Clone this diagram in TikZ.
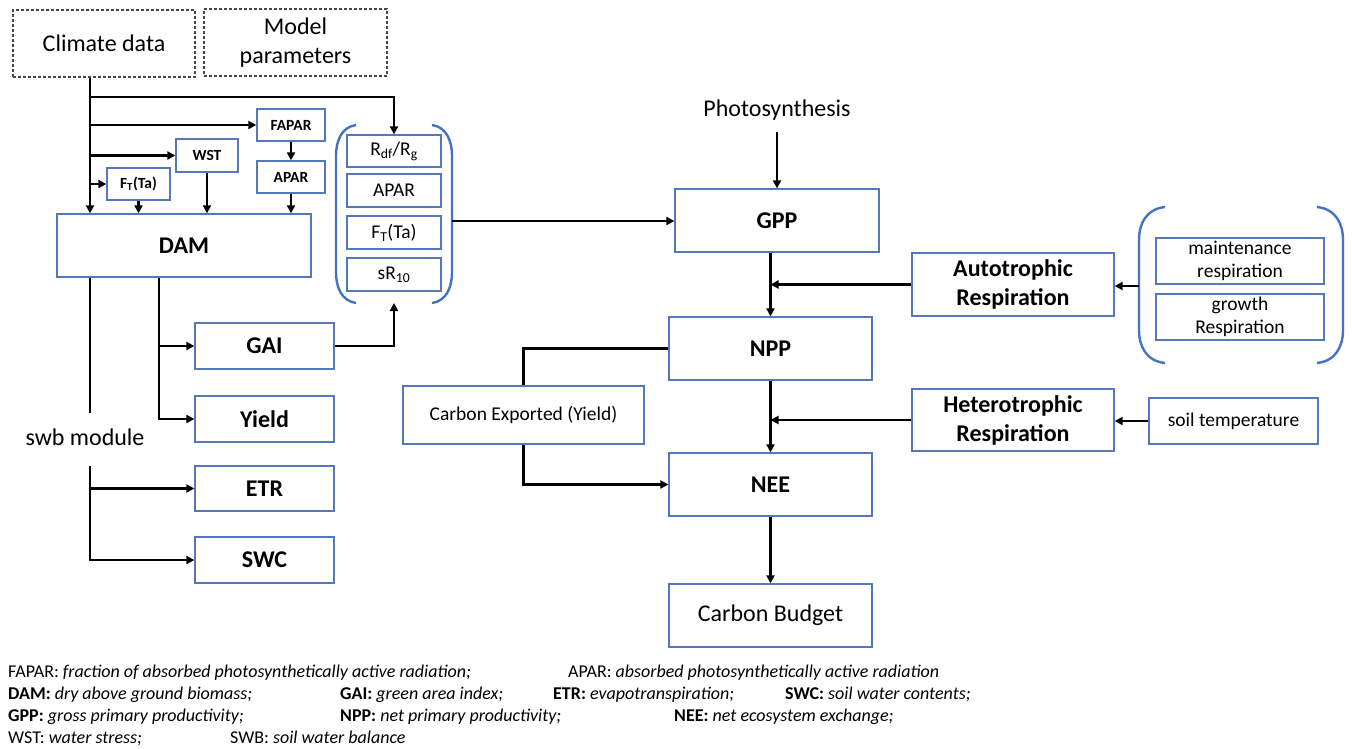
\documentclass[tikz,border=0pt]{standalone}
\usepackage{fontspec}
\setmainfont{Carlito}
\usetikzlibrary{arrows.meta}
\definecolor{boxblue}{RGB}{84,120,186}
\definecolor{parblue}{RGB}{68,114,196}
\definecolor{dashgray}{RGB}{70,70,70}
\newcommand\fbig{\fontsize{24}{29}\selectfont}
\newcommand\fmid{\fontsize{19.5}{23}\selectfont}
\newcommand\fsml{\fontsize{15.5}{18}\selectfont}
\newcommand\fleg{\fontsize{18}{22}\selectfont}
\begin{document}
\begin{tikzpicture}[x=1pt,y=-1pt,
  box/.style={draw=boxblue, line width=1.3pt, fill=white, inner sep=0pt, align=center, text=black},
  dbox/.style={draw=dashgray, line width=1.3pt, dash pattern=on 3pt off 2pt, inner sep=0pt, align=center},
  arr/.style={line width=2.5pt, -{Triangle[length=8pt,width=8pt]}},
  ln/.style={line width=2.5pt},
  paren/.style={draw=parblue, line width=2.4pt},
  leg/.style={anchor=base west, inner sep=0pt, font=\fleg}
]
\useasboundingbox (0,0) rectangle (1352,748);
\fill[white] (0,0) rectangle (1352,748);

% top inputs
\node[dbox, minimum width=182pt, minimum height=67pt, font=\fbig] (climate) at (104,43.5) {Climate data};
\node[dbox, minimum width=183pt, minimum height=67pt, font=\fbig] (model) at (295.5,42.5) {Model\\parameters};

% small boxes
\node[box, minimum width=68pt, minimum height=32pt, font=\fsml\bfseries] (fapar) at (291,125) {FAPAR};
\node[box, minimum width=62pt, minimum height=33pt, font=\fsml\bfseries] (wst) at (207,155.5) {WST};
\node[box, minimum width=63pt, minimum height=32pt, font=\fsml\bfseries] (ft) at (138.5,184) {F\textsubscript{T}(Ta)};
\node[box, minimum width=68pt, minimum height=32pt, font=\fsml\bfseries] (apar) at (291,177) {APAR};
\node[box, minimum width=254pt, minimum height=63pt, font=\fbig\bfseries] (dam) at (184,245.5) {DAM};

% bracket group
\node[box, minimum width=94pt, minimum height=32pt, font=\fmid] (rdf) at (394,151) {R\textsubscript{df}/R\textsubscript{g}};
\node[box, minimum width=94pt, minimum height=33pt, font=\fmid] (apar2) at (394,190.5) {APAR};
\node[box, minimum width=94pt, minimum height=33pt, font=\fmid] (ft2) at (394,232.5) {F\textsubscript{T}(Ta)};
\node[box, minimum width=94pt, minimum height=33pt, font=\fmid] (sr) at (394,274.5) {sR\textsubscript{10}};
\draw[paren] (356,125) .. controls (342,127) and (336,140) .. (336,156) -- (336,272) .. controls (336,288) and (342,301) .. (356,303);
\draw[paren] (432,125) .. controls (446,127) and (452,140) .. (452,156) -- (452,272) .. controls (452,288) and (446,301) .. (432,303);
\coordinate (brR) at (452,221);
\coordinate (brB) at (394,303);

% outputs left
\node[box, minimum width=139pt, minimum height=46pt, font=\fbig\bfseries] (gai) at (264.5,346) {GAI};
\node[box, minimum width=139pt, minimum height=46pt, font=\fbig\bfseries] (yield) at (264.5,419) {Yield};
\node[box, minimum width=139pt, minimum height=45pt, font=\fbig\bfseries] (etr) at (264.5,488.5) {ETR};
\node[box, minimum width=139pt, minimum height=46pt, font=\fbig\bfseries] (swc) at (264.5,560) {SWC};
\node[inner sep=0pt, font=\fbig] (swb) at (85,437) {swb module};

% centre column
\node[inner sep=0pt, font=\fbig] (photo) at (777,110) {Photosynthesis};
\node[box, minimum width=204pt, minimum height=63pt, font=\fbig\bfseries] (gpp) at (777,220.5) {GPP};
\node[box, minimum width=203pt, minimum height=63pt, font=\fbig\bfseries] (npp) at (770.5,348.5) {NPP};
\node[box, minimum width=241pt, minimum height=58pt, font=\fmid] (carbexp) at (523.5,415) {Carbon Exported (Yield)};
\node[box, minimum width=203pt, minimum height=63pt, font=\fbig\bfseries] (nee) at (770.5,484.5) {NEE};
\node[box, minimum width=203pt, minimum height=63pt, font=\fbig] (cb) at (770.5,615.5) {Carbon Budget};

% right
\node[box, minimum width=202pt, minimum height=63pt, font=\fbig\bfseries] (auto) at (1013,284.5) {Autotrophic\\Respiration};
\node[box, minimum width=202pt, minimum height=62pt, font=\fbig\bfseries] (hetero) at (1013,420) {Heterotrophic\\Respiration};
\node[box, minimum width=168pt, minimum height=46pt, font=\fmid] (maint) at (1240,261) {maintenance\\respiration};
\node[box, minimum width=168pt, minimum height=46pt, font=\fmid] (growth) at (1240,317) {growth\\Respiration};
\node[box, minimum width=169pt, minimum height=46pt, font=\fmid] (soil) at (1233.5,421) {soil temperature};
\draw[paren] (1165,207) .. controls (1146,209) and (1139,224) .. (1139,240) -- (1139,330) .. controls (1139,346) and (1146,361) .. (1165,363);
\draw[paren] (1317,207) .. controls (1336,209) and (1343,224) .. (1343,240) -- (1343,330) .. controls (1343,346) and (1336,361) .. (1317,363);
\coordinate (rpL) at (1139,286);

% trunk coordinates
\coordinate (tr) at (90,0);
\coordinate (tr2) at (159,0);

% connectors from climate data
\draw[arr] (tr |- climate.south) -- (tr |- dam.north);
\draw[arr] (tr |- 0,97) -| (rdf.north);
\draw[arr] (tr |- fapar.west) -- (fapar.west);
\draw[arr] (tr |- wst.west) -- (wst.west);
\draw[arr] (tr |- ft.west) -- (ft.west);
\draw[arr] (ft.south) -- (ft.south |- dam.north);
\draw[arr] (wst.south) -- (wst.south |- dam.north);
\draw[arr] (fapar.south) -- (apar.north);
\draw[arr] (apar.south) -- (apar.south |- dam.north);

% below DAM
\draw[ln] (tr |- dam.south) -- (tr |- 0,413);
\draw[arr] (tr |- 0,466) |- (swc.west);
\draw[arr] (tr |- etr.west) -- (etr.west);
\draw[arr] (tr2 |- dam.south) |- (yield.west);
\draw[arr] (tr2 |- gai.west) -- (gai.west);
\draw[arr] (gai.east) -| (brB);

% centre
\draw[arr] (brR) -- (brR -| gpp.west);
\draw[arr] ([yshift=-12pt]photo.south) -- (gpp.north);
\draw[arr] (npp.north |- gpp.south) -- (npp.north);
\draw[arr] (auto.west) -- (auto.west -| npp.north);
\draw[ln] (npp.west) -| (carbexp.north);
\draw[arr] (carbexp.south) |- (nee.west);
\draw[arr] (npp.south) -- (nee.north);
\draw[arr] (hetero.west) -- (hetero.west -| npp.south);
\draw[arr] (nee.south) -- (cb.north);
\draw[arr] (rpL) -- (rpL -| auto.east);
\draw[arr] (soil.west) -- (soil.west -| hetero.east);

% legend
\node[leg] (l1) at (8,677) {FAPAR: \textit{fraction of absorbed photosynthetically active radiation;}};
\node[leg] (l2) at (568,677) {APAR: \textit{absorbed photosynthetically active radiation}};
\node[leg] (l3) at (8,699) {\textbf{DAM:} \textit{dry above ground biomass;}};
\node[leg] (l4) at (340,699) {\textbf{GAI:} \textit{green area index;}};
\node[leg] (l5) at (553,699) {\textbf{ETR:} \textit{evapotranspiration;}};
\node[leg] (l6) at (785,699) {\textbf{SWC:} \textit{soil water contents;}};
\node[leg] (l7) at (8,721) {\textbf{GPP:} \textit{gross primary productivity;}};
\node[leg] (l8) at (340,721) {\textbf{NPP:} \textit{net primary productivity;}};
\node[leg] (l9) at (674,721) {\textbf{NEE:} \textit{net ecosystem exchange;}};
\node[leg] (l10) at (8,743) {WST: \textit{water stress;}};
\node[leg] (l11) at (230,743) {SWB: \textit{soil water balance}};
\end{tikzpicture}
\end{document}
